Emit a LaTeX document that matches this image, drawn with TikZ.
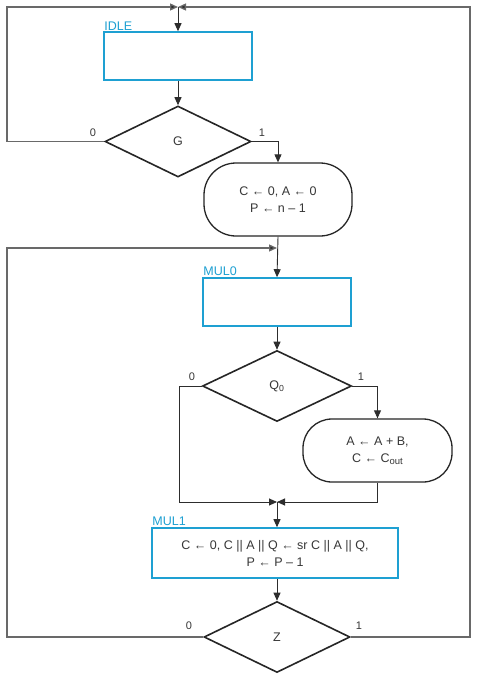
\documentclass[tikz,border=0pt]{standalone}
\usepackage{fontspec}
\setmainfont{Liberation Sans}
\usetikzlibrary{shapes.geometric,arrows.meta,calc}
\definecolor{asmblue}{RGB}{30,160,210}
\definecolor{txt}{RGB}{55,55,55}
\definecolor{ln}{RGB}{45,45,45}
\definecolor{frm}{RGB}{105,105,105}
\begin{document}
\begin{tikzpicture}[x=1pt,y=-1pt,
  >={Triangle[length=8pt,width=7pt]},
  statebox/.style={draw=asmblue, line width=1.6pt, rectangle, minimum width=148pt, minimum height=48pt, inner sep=0pt, align=center, text=txt, font=\fontsize{12.5}{17}\selectfont},
  decbox/.style={draw=black!85, line width=1.6pt, diamond, minimum width=146pt, minimum height=71pt, inner sep=0pt, text=txt, font=\fontsize{12.5}{14}\selectfont},
  condbox/.style={draw=black!85, line width=1.3pt, rectangle, rounded corners=32pt, minimum width=148pt, inner sep=0pt, align=center, text=txt, font=\fontsize{12.5}{17}\selectfont},
  statelabel/.style={text=asmblue, anchor=south west, inner sep=1pt, font=\fontsize{12.5}{13}\selectfont},
  blabel/.style={text=txt, inner sep=0pt, font=\fontsize{11}{12}\selectfont},
  conn/.style={draw=ln, line width=0.9pt},
  frame/.style={draw=frm, line width=1.3pt, -{Triangle[length=8pt,width=7pt,fill=ln]}}
]
\useasboundingbox[fill=white] (0,0) rectangle (488,680);

% nodes
\node[statebox] (idle) at (178,56) {};
\node[statelabel] (idlel) at (idle.north west) {IDLE};
\node[decbox] (g) at (178,141.5) {G};
\node[condbox, minimum height=73pt] (init) at (278,199.5) {C ← 0, A ← 0\\P ← n – 1};
\node[statebox] (mul0) at (277,302) {};
\node[statelabel] (mul0l) at (mul0.north west) {MUL0};
\node[decbox, minimum width=149pt] (q) at (277,386) {Q\textsubscript{0}};
\node[condbox, rounded corners=29pt, minimum width=149pt, minimum height=63pt] (add) at (377.5,450.5) {A ← A + B,\\C ← C{\fontsize{9.5}{10}\selectfont\raisebox{-0.35ex}{out}}};
\node[statebox, minimum width=246pt, minimum height=50pt] (mul1) at (275,553) {C ← 0, C || A || Q ← sr C || A || Q,\\P ← P – 1};
\node[statelabel] (mul1l) at (mul1.north west) {MUL1};
\node[decbox] (z) at (277,637) {Z};

% branch labels
\node[blabel] (g0) at (93,133) {0};
\node[blabel] (g1) at (262,133) {1};
\node[blabel] (q0) at (192,377) {0};
\node[blabel] (q1) at (361,377) {1};
\node[blabel] (z0) at (189,626) {0};
\node[blabel] (z1) at (359,626) {1};

% coordinates
\coordinate (j1) at (178,7);
\coordinate (tl) at (7,7);
\coordinate (tr) at (470,7);
\coordinate (lp) at (7,248);
\coordinate (lpe) at (277,248);
\coordinate (j2) at (277,502);
\coordinate (qlb) at (179,502);

% connectors
\draw[conn,->] (j1) -- (idle.north);
\draw[conn,->] (idle.south) -- (g.north);
\draw[frame] (g.west) -| (tl) -- (j1);
\draw[conn,->] (g.east) -| (init.north);
\draw[conn,->] (init.south) -- (mul0.north);
\draw[frame] (z.west) -| (lp) -- (lpe);
\draw[conn,->] (mul0.south) -- (q.north);
\draw[conn,->] (q.east) -| (add.north);
\draw[conn,->] (q.west) -| (qlb) -- (j2);
\draw[conn,->] (add.south) |- (j2);
\draw[conn,->] (j2) -- (j2 |- mul1.north);
\draw[conn,->] (z.north |- mul1.south) -- (z.north);
\draw[frame] (z.east) -| (tr) -- (j1);
\end{tikzpicture}
\end{document}
